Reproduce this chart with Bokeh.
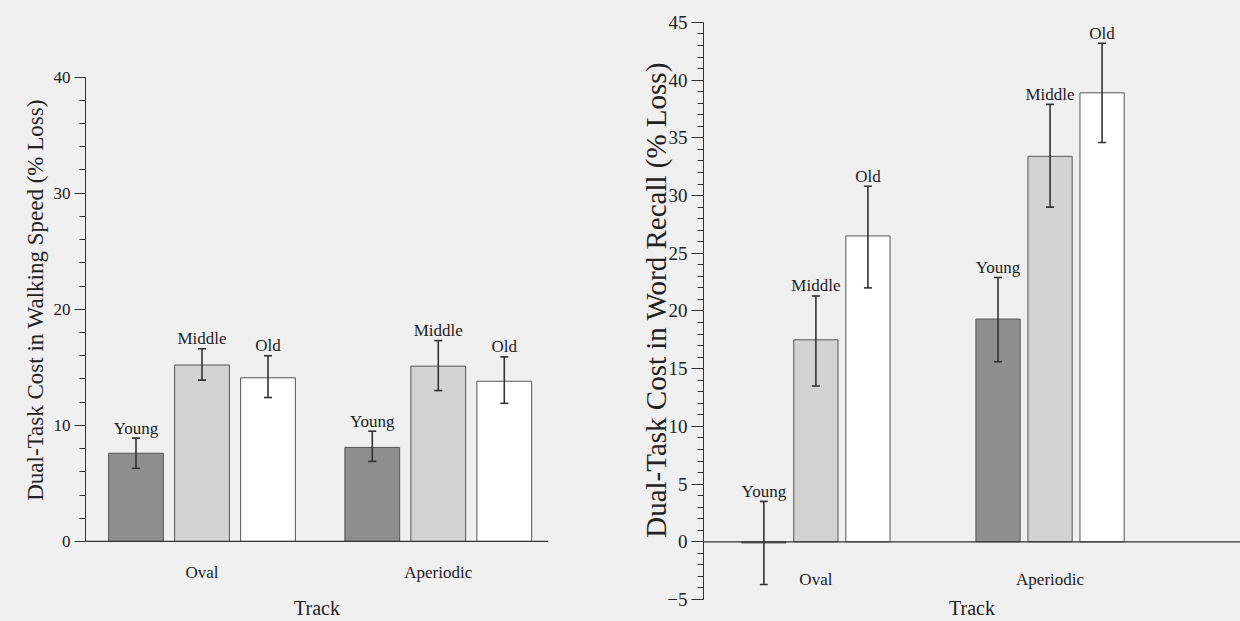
from bokeh.plotting import figure
from bokeh.models import Range1d, ColumnDataSource, Whisker, TeeHead, FixedTicker, Span
from bokeh.layouts import row
from bokeh.embed import file_html
from bokeh.resources import INLINE
from bokeh.core.properties import value

# ---------------- data ----------------
tracks = ["Oval", "Aperiodic"]
ages = ["Young", "Middle", "Old"]
age_colors = ["#8e8e8e", "#d3d3d3", "#ffffff"]

walk_mean = [7.6, 15.2, 14.1, 8.1, 15.1, 13.8]
walk_lo = [6.3, 13.9, 12.4, 6.9, 13.0, 11.9]
walk_hi = [8.9, 16.6, 16.0, 9.5, 17.3, 15.9]
walk_ticks = [0, 10, 20, 30, 40]

recall_mean = [-0.1, 17.5, 26.5, 19.3, 33.4, 38.9]
recall_lo = [-3.7, 13.5, 22.0, 15.6, 29.0, 34.6]
recall_hi = [3.5, 21.3, 30.8, 22.9, 37.9, 43.2]
recall_ticks = [-5, 0, 5, 10, 15, 20, 25, 30, 35, 40, 45]

FONT = "Liberation Serif"
BG = "#f0f0f0"
INK = "#333333"


def build_source(mean, lo, hi, step):
    xs, cols, names = [], [], []
    for t in range(len(tracks)):
        for a in range(len(ages)):
            xs.append(t * step + a)
            cols.append(age_colors[a])
            names.append(ages[a])
    return ColumnDataSource(dict(x=xs, top=mean, lo=lo, hi=hi, color=cols, age=names))


def draw_panel(p, src, width, step, cat_offset):
    p.add_layout(Span(location=0, dimension="width", line_color=INK, line_width=1.2))
    p.vbar(x="x", top="top", bottom=0, width=width, source=src, fill_color="color",
           line_color="#555555", line_width=1)
    head = dict(size=8, line_color=INK, line_width=1.6)
    w = Whisker(source=src, base="x", upper="hi", lower="lo", line_color=INK,
                line_width=1.6, upper_head=TeeHead(**head), lower_head=TeeHead(**head),
                level="annotation")
    p.add_layout(w)
    p.text(x="x", y="hi", text="age", source=src, text_font=value(FONT),
           text_font_size="17px", text_align="center", text_baseline="alphabetic",
           y_offset=-10, text_color="#222222")
    centers = [t * step + 1 for t in range(len(tracks))]
    p.text(x=centers, y=[0] * len(tracks), text=tracks, text_font=value(FONT),
           text_font_size="17px", text_align="center", text_baseline="middle",
           y_offset=cat_offset, text_color="#222222")


def style(p, tick_size, title_size, tick_out, standoff):
    p.background_fill_color = BG
    p.border_fill_color = BG
    p.outline_line_color = None
    p.grid.grid_line_color = None
    for ax in p.axis:
        ax.axis_line_color = INK
        ax.major_tick_line_color = INK
        ax.minor_tick_line_color = INK
        ax.major_label_text_font = FONT
        ax.axis_label_text_font = FONT
        ax.axis_label_text_font_style = "normal"
        ax.axis_label_text_color = "#222222"
        ax.major_label_text_color = "#222222"
    p.yaxis.major_tick_out = tick_out
    p.yaxis.major_tick_in = 0
    p.yaxis.minor_tick_out = 6
    p.yaxis.minor_tick_in = 0
    p.yaxis.major_label_text_font_size = tick_size
    p.yaxis.axis_label_text_font_size = title_size
    p.yaxis.major_label_standoff = 4
    p.yaxis.axis_label_standoff = standoff
    p.xaxis.ticker = FixedTicker(ticks=[], minor_ticks=[])
    p.xaxis.axis_line_color = None
    p.xaxis.major_tick_out = 0
    p.xaxis.axis_label = "Track"
    p.xaxis.axis_label_text_font_size = "20px"
    p.xaxis.axis_label_standoff = -3


# ---------------- left panel: walking speed ----------------
step1 = 3.58
src1 = build_source(walk_mean, walk_lo, walk_hi, step1)
p1 = figure(width=600, height=621, x_range=Range1d(-0.765, 6.25), y_range=Range1d(-5.0, 46.6),
            output_backend="svg", toolbar_location=None,
            min_border_left=85, min_border_right=52, min_border_top=0, min_border_bottom=22)
draw_panel(p1, src1, 0.83, step1, 31)
style(p1, "17px", "23px", 11, 3)
p1.yaxis.ticker = FixedTicker(ticks=walk_ticks, minor_ticks=list(range(walk_ticks[0], walk_ticks[-1] + 1, 2)))
p1.yaxis.bounds = (walk_ticks[0], walk_ticks[-1])
p1.yaxis.axis_label = "Dual-Task Cost in Walking Speed (% Loss)"

# ---------------- right panel: word recall ----------------
step2 = 4.5
src2 = build_source(recall_mean, recall_lo, recall_hi, step2)
p2 = figure(width=640, height=621, x_range=Range1d(-1.16, 9.16), y_range=Range1d(-5, 46.9),
            output_backend="svg", toolbar_location=None,
            min_border_left=103, min_border_right=0, min_border_top=0, min_border_bottom=22)
draw_panel(p2, src2, 0.85, step2, 38)
style(p2, "19px", "29px", 12, -8)
p2.yaxis.ticker = FixedTicker(ticks=recall_ticks, minor_ticks=list(range(recall_ticks[0], recall_ticks[-1] + 1)))
p2.yaxis.bounds = (recall_ticks[0], recall_ticks[-1])
p2.yaxis.axis_label = "Dual-Task Cost in Word Recall (% Loss)"

layout = row(p1, p2, spacing=0)
layout.styles = {"background-color": BG}
open("out.html", "w").write(file_html(layout, INLINE))
